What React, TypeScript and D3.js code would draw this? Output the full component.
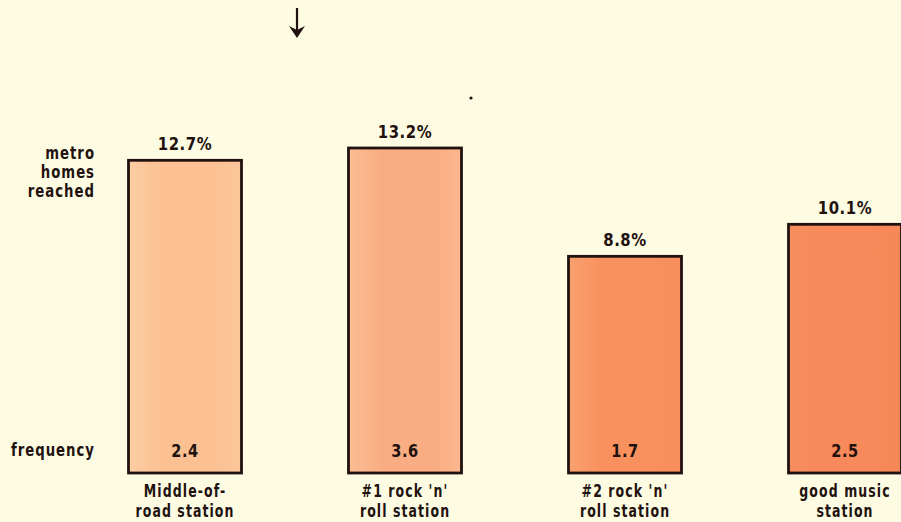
import React, { useRef, useEffect } from 'react';
import * as d3 from 'd3';

const stations = [['Middle-of-', 'road station'], ['#1 rock \'n\'', 'roll station'], ['#2 rock \'n\'', 'roll station'], ['good music', 'station']];
const reach = [12.7, 13.2, 8.8, 10.1];
const frequency = [2.4, 3.6, 1.7, 2.5];
const barColors = [['#fccda3', '#fbc193', '#fbc69b'], ['#fbbd95', '#faac82', '#fbb78f'], ['#f9a070', '#f8915e', '#f78e5c'], ['#f78e5e', '#f7895a', '#f68857']];

const App = () => {
    const svgRef = useRef(null);

    useEffect(() => {
        const svg = d3.select(svgRef.current);
        svg.selectAll("*").remove();
        const width = 901;
        const height = 522;
        const font = "'Liberation Sans Narrow', 'DejaVu Sans Condensed', 'DejaVu Sans', sans-serif";
        const ink = "#22120f";

        svg.attr("viewBox", [0, 0, width, height]);

        svg.append("rect").attr("width", width).attr("height", height).attr("fill", "#fefbe3");

        const x = d3.scalePoint()
            .domain(stations.map((d, i) => i))
            .range([185, 845]);

        const y = d3.scaleLinear()
            .domain([0, 13.2])
            .range([473, 148]);

        const barW = 113;

        const defs = svg.append("defs");
        barColors.forEach((c, i) => {
            const g = defs.append("linearGradient").attr("id", "bar" + i).attr("x1", 0).attr("x2", 1).attr("y1", 0).attr("y2", 0);
            g.append("stop").attr("offset", 0).attr("stop-color", c[0]);
            g.append("stop").attr("offset", 0.3).attr("stop-color", c[1]);
            g.append("stop").attr("offset", 0.75).attr("stop-color", c[1]);
            g.append("stop").attr("offset", 1).attr("stop-color", c[2]);
        });

        svg.append("g")
            .selectAll("rect")
            .data(reach)
            .join("rect")
            .attr("x", (d, i) => x(i) - barW / 2)
            .attr("y", d => y(d))
            .attr("width", barW)
            .attr("height", d => y(0) - y(d))
            .attr("fill", (d, i) => `url(#bar${i})`)
            .attr("stroke", ink)
            .attr("stroke-width", 2.8);

        const txt = svg.append("g")
            .attr("font-family", font)
            .attr("font-weight", "bold")
            .attr("fill", ink);

        // condensed look: squeeze the text horizontally around its anchor
        const label = (px, py, s, size, anchor, sx, ls) => {
            txt.append("text")
                .attr("transform", `translate(${px},${py}) scale(${sx},1)`)
                .attr("text-anchor", anchor)
                .attr("font-size", size)
                .attr("letter-spacing", ls)
                .text(s);
        };

        reach.forEach((d, i) => label(x(i), y(d) - 10, d.toFixed(1) + "%", 18, "middle", 0.92, 0.6));
        frequency.forEach((d, i) => label(x(i), 457, d.toFixed(1), 18, "middle", 0.9, 0.6));
        stations.forEach((d, i) => {
            label(x(i), 497, d[0], 17, "middle", 0.82, 1.3);
            label(x(i), 517, d[1], 17, "middle", 0.82, 1.3);
        });

        ["metro", "homes", "reached"].forEach((t, i) => label(95, 159 + i * 19, t, 18, "end", 0.82, 1.2));
        label(95, 456, "frequency", 18, "end", 0.82, 1.2);

        // arrow at top
        svg.append("line")
            .attr("x1", 297).attr("x2", 297).attr("y1", 8).attr("y2", 32)
            .attr("stroke", ink).attr("stroke-width", 2.2);
        svg.append("path")
            .attr("d", "M289,26 L297,38 L305,26 L297,30 Z")
            .attr("fill", ink);

        svg.append("circle").attr("cx", 471).attr("cy", 98).attr("r", 1.6).attr("fill", ink);
    }, []);

    return <svg ref={svgRef} width={901} height={522} style={{ position: 'absolute', left: 0, top: 0 }}></svg>;
};

export default App;
